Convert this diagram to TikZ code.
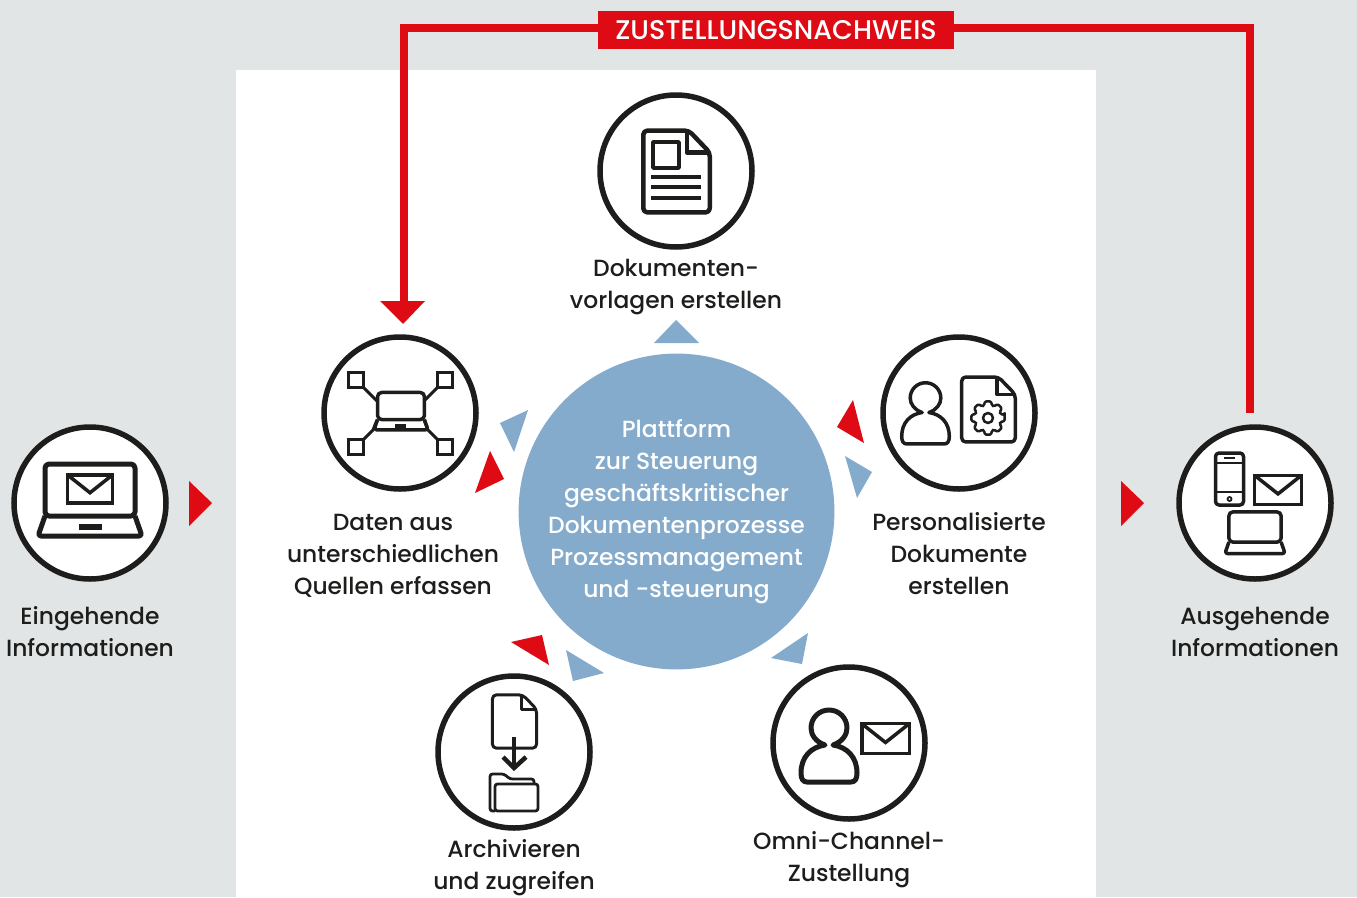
\documentclass[tikz,border=0pt]{standalone}
\usepackage{fontspec}
\setmainfont{Poppins Medium}
\usepackage{tikz}
\definecolor{bgray}{RGB}{225, 229, 230}
\definecolor{pblue}{RGB}{132, 170, 204}
\definecolor{nred}{RGB}{222, 10, 20}
\definecolor{iblack}{RGB}{29, 29, 27}
\tikzset{
    stepcircle/.style={circle, draw=iblack, fill=white, line width=5.5pt, minimum size=152pt, inner sep=0pt},
    steplabel/.style={align=center, text=iblack, font=\fontsize{23.4}{32}\selectfont},
    platform/.style={circle, fill=pblue, minimum size=315pt, inner sep=0pt, align=center, text=white, font=\fontsize{23.4}{32}\selectfont},
    proofbox/.style={fill=nred, text=white, minimum width=356pt, minimum height=38pt, inner sep=0pt, font=\fontsize{27}{28}\selectfont},
    proofline/.style={draw=nred, line width=8pt},
    redtip/.style={fill=nred},
    bluetip/.style={fill=pblue},
    icon/.style={draw=iblack, line join=round},
    laptop/.pic={
        \draw[icon, rounded corners=4pt] (-45,-26) rectangle (45,26);
        \draw[icon, rounded corners=3pt] (-45,26) -- (-52,46) -- (52,46) -- (45,26);
    },
    envelope/.pic={
        \draw[icon, line join=miter] (-24,-15) rectangle (24,15);
        \draw[icon, line join=miter] (-24,-15) -- (0,4) -- (24,-15);
    },
    person/.pic={
        \draw[icon] (-4,-10) .. controls (-13,-13) and (-18,-20) .. (-18,-27)
            .. controls (-18,-37) and (-10,-45) .. (0,-45)
            .. controls (10,-45) and (18,-37) .. (18,-27)
            .. controls (18,-20) and (13,-13) .. (4,-10)
            .. controls (18,-8) and (28,2) .. (28,18)
            .. controls (28,24) and (26,27) .. (22,27) -- (-22,27)
            .. controls (-26,27) and (-28,24) .. (-28,18)
            .. controls (-28,2) and (-18,-8) .. (-4,-10) -- cycle;
    },
    docpage/.pic={
        \draw[icon, rounded corners=4pt] (-35,-43) -- (13,-43) -- (35,-20) -- (35,43) -- (-35,43) -- cycle;
        \draw[icon] (11,-43) -- (11,-20) -- (35,-20);
    }
}
\begin{document}
\begin{tikzpicture}[x=1pt, y=-1pt]
    \useasboundingbox (0,0) rectangle (1357,897);
    \fill[bgray] (0,0) rectangle (1357,897);
    \fill[white] (236,70) rectangle (1096,897);

    \node[proofbox] (nachweis) at (776,30) {ZUSTELLUNGSNACHWEIS};
    \coordinate (datenend) at (404,304);
    \coordinate (ausgehendend) at (1250,413);
    \draw[proofline] ([yshift=2pt]nachweis.west) -| (datenend);
    \draw[proofline] ([yshift=2pt]nachweis.east) -| (ausgehendend);
    \fill[redtip] (380,301) -- (425,301) -- (403,324) -- cycle;

    \node[platform] (platform) at (676.5,511.5) {Plattform\\zur Steuerung\\geschäftskritischer\\Dokumentenprozesse\\Prozessmanagement\\und -steuerung};

    \node[stepcircle] (eingehend) at (90,503) {};
    \node[stepcircle] (vorlagen) at (676,171) {};
    \node[stepcircle] (daten) at (400,413) {};
    \node[stepcircle] (personal) at (959,413) {};
    \node[stepcircle] (archiv) at (514,752) {};
    \node[stepcircle] (omni) at (849,743) {};
    \node[stepcircle] (ausgehend) at (1255,503) {};

    \node[steplabel] (eingehendtext) at (90,632) {Eingehende\\Informationen};
    \node[steplabel] (vorlagentext) at (676,287) {Dokumenten-\\vorlagen erstellen};
    \node[steplabel] (datentext) at (393,556) {Daten aus\\unterschiedlichen\\Quellen erfassen};
    \node[steplabel] (personaltext) at (959,554) {Personalisierte\\Dokumente\\erstellen};
    \node[steplabel] (archivtext) at (514,868) {Archivieren\\und zugreifen};
    \node[steplabel] (omnitext) at (849,860) {Omni-Channel-\\Zustellung};
    \node[steplabel] (ausgehendtext) at (1255,632) {Ausgehende\\Informationen};

    \fill[redtip] (189,481) -- (189,526) -- (212,503) -- cycle;
    \fill[redtip] (1121,481) -- (1121,526) -- (1144,503) -- cycle;
    \fill[redtip] (837,427) -- (853,400) -- (864,443) -- cycle;
    \fill[redtip] (490,451) -- (504,479) -- (475,493) -- cycle;
    \fill[redtip] (511,642) -- (542,635) -- (549,665) -- cycle;
    \fill[bluetip] (654,343) -- (699,343) -- (676,320) -- cycle;
    \fill[bluetip] (845,456) -- (872,472) -- (857,498) -- cycle;
    \fill[bluetip] (500,423) -- (528,410) -- (514,452) -- cycle;
    \fill[bluetip] (566,650) -- (604,673) -- (573,681) -- cycle;
    \fill[bluetip] (808,633) -- (802,664) -- (771,658) -- cycle;

    \pic[line width=5pt] at (90,490) {laptop};
    \fill[iblack] (79,524) rectangle (102,530);
    \pic[scale=.93, line width=3.5pt] at (90,489) {envelope};

    \pic[scale=.95, line width=4.5pt] at (676.5,171.5) {docpage};
    \draw[icon, line width=3.5pt] (653,142) rectangle (679,168);
    \foreach \y in {177,187,198} {
        \draw[icon, line width=3.5pt] (651,\y) -- (701,\y);
    }

    \pic[scale=.52, line width=3.5pt] at (401,406) {laptop};
    \fill[iblack] (395,424) rectangle (406,428);
    \foreach \x in {356,445} {
        \foreach \y in {380,447} {
            \draw[icon, line width=3.3pt, line join=miter] (\x-7.5,\y-7.5) rectangle (\x+7.5,\y+7.5);
        }
    }
    \draw[icon, line width=3pt] (364,388) -- (377,401);
    \draw[icon, line width=3pt] (437,388) -- (424,401);
    \draw[icon, line width=3pt] (364,439) -- (373,430) -- (377,420);
    \draw[icon, line width=3pt] (437,439) -- (428,430) -- (424,420);

    \pic[scale=.85, line width=3.5pt] at (925.5,421) {person};
    \pic[xscale=.765, yscale=.755, line width=3.5pt] at (988.5,409.5) {docpage};
    \begin{scope}[shift={(988,418)}]
        \draw[icon, line width=2.5pt, rounded corners=1.5pt] (-11:17)
            \foreach \a in {0,45,...,315} { -- (\a-11:17) -- (\a+11:17) -- (\a+17:13) -- (\a+28:13) } -- cycle;
        \draw[icon, line width=2.5pt] (0,0) circle (5pt);
    \end{scope}

    \pic[xscale=.63, yscale=.62, line width=3pt] at (514.5,721.5) {docpage};
    \draw[icon, line width=4.5pt] (514,737) -- (514,767);
    \draw[icon, line width=4.5pt, line join=miter] (503,757) -- (514,768) -- (526,757);
    \draw[icon, line width=2.8pt, rounded corners=2.5pt] (495,811) -- (490,811) -- (490,774) -- (504,774) -- (510,779) -- (534,779) -- (534,784);
    \draw[icon, line width=2.8pt, rounded corners=2.5pt] (495,811) -- (495,784) -- (538,784) -- (538,811) -- cycle;

    \pic[line width=5pt] at (829,755) {person};
    \pic[scale=.99, line width=3.5pt] at (885.5,738.5) {envelope};

    \draw[icon, line width=3.5pt, rounded corners=3.5pt] (1215.5,453) rectangle (1243.5,505);
    \draw[icon, line width=2.8pt] (1216,463) -- (1243,463);
    \draw[icon, line width=2.8pt] (1216,492) -- (1243,492);
    \draw[icon, line width=2.5pt] (1224,458) -- (1235,458);
    \draw[icon, line width=1.8pt] (1229.5,499) circle (2pt);
    \pic[scale=.97, line width=3.5pt] at (1278,490) {envelope};
    \pic[scale=.58, line width=3.5pt] at (1255,527) {laptop};
\end{tikzpicture}
\end{document}
